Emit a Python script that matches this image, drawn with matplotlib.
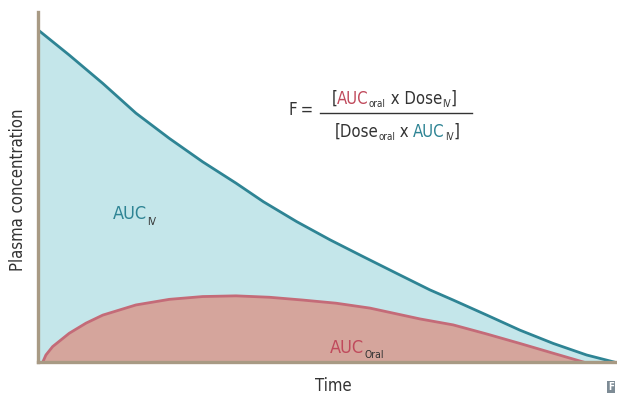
import matplotlib
matplotlib.use("Agg")
import matplotlib.pyplot as plt

plt.rcParams['font.family'] = ['DejaVu Sans']
plt.rcParams['font.stretch'] = 'condensed'

# time (h) and plasma concentration (%)
t_iv = [0, 1.30, 2.70, 4.08, 5.47, 6.86, 8.25, 9.39, 10.78, 12.17, 13.55, 14.95,
        16.33, 17.30, 18.70, 20.08, 21.47, 22.86, 24.0]
c_iv = [94.9, 87.7, 79.6, 71.1, 63.9, 57.2, 51.1, 45.8, 40.1, 34.9, 30.1, 25.3,
        20.6, 17.7, 13.4, 9.1, 5.3, 2.0, 0]

t_oral = [0.2, 0.33, 0.61, 1.30, 2.0, 2.70, 4.08, 5.47, 6.86, 8.25, 9.64, 11.03,
          12.42, 13.83, 15.92, 17.30, 18.70, 20.08, 21.47, 22.72]
c_oral = [0, 2.0, 4.4, 8.2, 11.1, 13.4, 16.3, 17.9, 18.7, 18.9, 18.5, 17.7,
          16.8, 15.4, 12.3, 10.6, 8.0, 5.3, 2.5, 0]

teal = '#2e8494'
rose = '#c46b78'
spine = '#a89a84'
dark = '#333333'

fig = plt.figure(figsize=(6.17, 3.94), dpi=100)
ax = fig.add_axes([38/617, 32/394, 579/617, 350/394])

ax.fill_between(t_iv, c_iv, 0, color='#c4e6ea', lw=0)
ax.plot(t_iv, c_iv, color=teal, lw=2, solid_joinstyle='round')
ax.fill_between(t_oral, c_oral, 0, color='#d5a59c', lw=0)
ax.plot(t_oral, c_oral, color=rose, lw=2, solid_joinstyle='round')

ax.set_xlim(0, 579/24)
ax.set_ylim(0, 100)
ax.set_xticks([])
ax.set_yticks([])
for s in ['top', 'right']:
    ax.spines[s].set_visible(False)
for s in ['left', 'bottom']:
    ax.spines[s].set_color(spine)
    ax.spines[s].set_linewidth(2.4)
    ax.spines[s].set_zorder(5)

fig.text(18/617, 1 - 190/394, 'Plasma concentration', rotation=90, ha='center', va='center',
         fontsize=12, color=dark)
fig.text(333/617, 1 - 386/394, 'Time', ha='center', va='center', fontsize=12, color=dark)

renderer = fig.canvas.get_renderer()


def draw_pieces(x, y, pieces):
    # pieces: (text, color, size, baseline drop in px); x, y in image pixels
    for txt, col, size, dy in pieces:
        t = fig.text(x, 394 - y - dy, txt, color=col, fontsize=size, transform=None,
                     ha='left', va='baseline')
        x += t.get_window_extent(renderer).width
    return x


def width_of(pieces):
    w = 0
    for txt, col, size, dy in pieces:
        t = fig.text(0, 0, txt, fontsize=size, transform=None)
        w += t.get_window_extent(renderer).width
        t.remove()
    return w


draw_pieces(113, 219, [('AUC', teal, 13, 0), ('IV', dark, 7.5, 6)])
draw_pieces(330, 353, [('AUC', '#c04a5c', 13, 0), ('Oral', dark, 7.5, 5)])

num = [('[', dark, 12, 0), ('AUC', '#c04a5c', 12, 0), ('oral', dark, 7, 3),
       (' x Dose', dark, 12, 0), ('IV', dark, 7, 3), (']', dark, 12, 0)]
den = [('[Dose', dark, 12, 0), ('oral', dark, 7, 3), (' x ', dark, 12, 0),
       ('AUC', teal, 12, 0), ('IV', dark, 7, 3), (']', dark, 12, 0)]
draw_pieces(394 - width_of(num) / 2, 104, num)
draw_pieces(397 - width_of(den) / 2, 137, den)
fig.text(313, 394 - 115, 'F\u2009=', color=dark, fontsize=12, transform=None, ha='right', va='baseline')
fig.add_artist(plt.Line2D([320/617, 472/617], [1 - 113/394, 1 - 113/394], color=dark, lw=1))

fig.text(611/617, 1 - 387/394, 'F', color='white', fontsize=7, fontweight='bold', ha='center', va='center',
         bbox=dict(facecolor='#7d8b95', edgecolor='none', pad=1))

fig.savefig('out.png', dpi=100)
